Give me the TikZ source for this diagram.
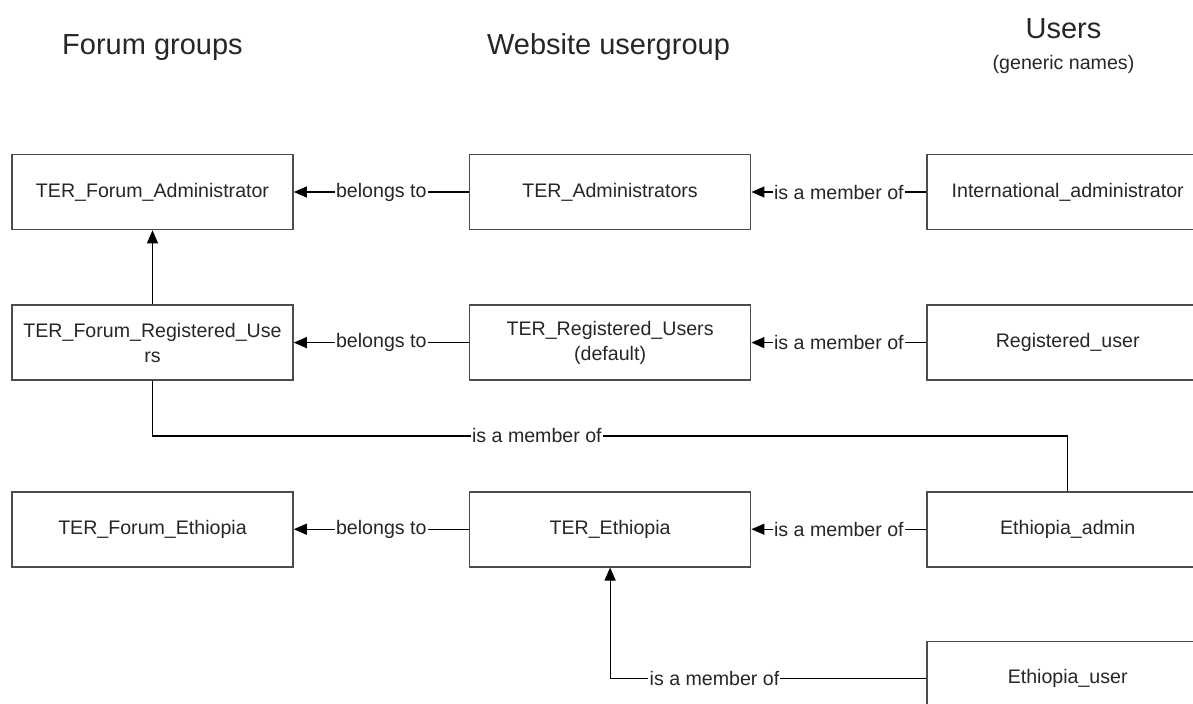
\documentclass[tikz,border=0pt]{standalone}
\usepackage{fontspec}
\setsansfont{Liberation Sans}
\usetikzlibrary{arrows.meta,positioning,calc}

\begin{document}
\begin{tikzpicture}[
            x=0.5pt, y=0.5pt,
            every node/.style={align=center, font=\sffamily\fontsize{9.8}{12.5}\selectfont, text=black!85},
            group/.style={draw=black!70, line width=0.8pt, minimum width=140.5pt, minimum height=37.5pt, inner sep=0pt},
            head/.style={font=\sffamily\fontsize{14.5}{17}\selectfont, anchor=base},
            conn/.style={-{Triangle[length=6.5pt,width=5.5pt]}, line width=0.6pt},
            link/.style={line width=0.6pt},
            lbl/.style={fill=white, inner sep=0.6pt},
            node distance = 37pt and 87.5pt
  ]
  \clip (0,0) rectangle (1193,703);

  % column headings
  \node[head] (hforum) at (152.5,648) {Forum groups};
  \node[head] (hweb) at (608.5,648) {Website usergroup};
  \node[head] (huser) at (1063.5,664) {Users};
  \node[anchor=base] (hgeneric) at (1063.5,633) {(generic names)};

  \node[group] (fadmin) at (152.5,511) {TER\_Forum\_Administrator};
  \node[group, right=of fadmin] (wadmin) {TER\_Administrators};
  \node[group, right=of wadmin] (uadmin) {International\_administrator};

  \node[group, below=of fadmin] (freg) {TER\_Forum\_Registered\_Use\\rs};
  \node[group, right=of freg] (wreg) {TER\_Registered\_Users\\(default)};
  \node[group, right=of wreg] (ureg) {Registered\_user};

  \node[group, below=55pt of freg] (feth) {TER\_Forum\_Ethiopia};
  \node[group, right=of feth] (weth) {TER\_Ethiopia};
  \node[group, right=of weth] (ueth) {Ethiopia\_admin};
  \node[group, below=36.5pt of ueth] (uethuser) {Ethiopia\_user};

  % connectors
  \draw[conn] (wadmin) -- node[lbl] {belongs to} (fadmin);
  \draw[conn] (uadmin) -- node[lbl] {is a member of} (wadmin);
  \draw[conn] (freg) -- (fadmin);
  \draw[conn] (wreg) -- node[lbl] {belongs to} (freg);
  \draw[conn] (ureg) -- node[lbl] {is a member of} (wreg);
  \draw[conn] (weth) -- node[lbl] {belongs to} (feth);
  \draw[conn] (ueth) -- node[lbl] {is a member of} (weth);

  \coordinate (bend) at ($(freg.south)!0.5!(ueth.north)$);
  \draw[link] (ueth.north) |- (bend) -| node[lbl, pos=0.08] {is a member of} (freg.south);
  \draw[conn] (uethuser.west) -| node[lbl, pos=0.335] {is a member of} (weth.south);

\end{tikzpicture}
\end{document}
